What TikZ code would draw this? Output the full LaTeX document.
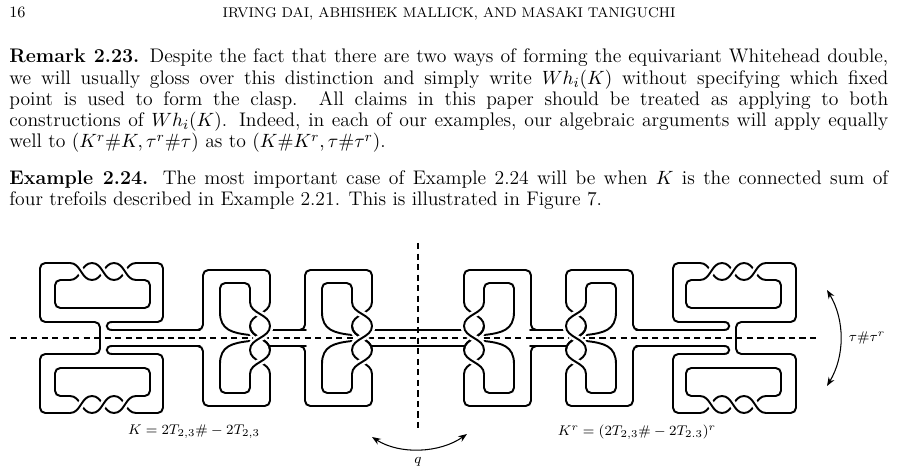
\documentclass[tikz,border=0pt]{standalone}
\usetikzlibrary{arrows.meta}
\newcommand\myhx[4]{%
 \pgfmathsetmacro\xm{(#1+#2)/2}%
 \draw[knot] (#1,#4) .. controls (\xm,#4) and (\xm,#3) .. (#2,#3);
 \draw[knot,over] (#1,#3) .. controls (\xm,#3) and (\xm,#4) .. (#2,#4);}
\newcommand\myvx[4]{%
 \pgfmathsetmacro\ym{(#1+#2)/2}%
 \draw[knot] (#4,#1) .. controls (#4,\ym) and (#3,\ym) .. (#3,#2);
 \draw[knot,over] (#3,#1) .. controls (#3,\ym) and (#4,\ym) .. (#4,#2);}
\newcommand\myunit[1]{%
 \begin{scope}[xshift=#1*0.57pt]
 \draw[knot,rounded corners=3pt] (198,330) -- (203,330) -- (203,270) -- (270,270) -- (270,302);
 \draw[knot,rounded corners=3pt] (250,302) -- (250,283) -- (220,283) -- (220,312);
 \draw[knot] (220,312) .. controls (220,330) and (232,333) .. (250,335);
 \myvx{302}{326}{250}{270}
 \myvx{326}{350}{250}{270}
 \draw[knot] (270,330) -- (306,330);
 \end{scope}}
\newcommand\mytop{%
 \draw[knot,rounded corners=3pt] (100,340) -- (100,322) -- (40,322) -- (40,263) -- (70,263);
 \myhx{70}{92}{263}{280}
 \myhx{92}{114}{263}{280}
 \myhx{114}{136}{263}{280}
 \draw[knot,rounded corners=3pt] (70,280) -- (55,280) -- (55,308) -- (150,308) -- (150,280) -- (136,280);
 \draw[knot,rounded corners=3pt] (136,263) -- (163,263) -- (163,322) -- (112,322);
 \draw[knot] (112,322) .. controls (105,322) and (105,330) .. (112,330) -- (200,330);
 \myunit{0}
 \myunit{102}
 \draw[knot] (372,330) -- (419,330);}
\begin{document}
\begin{tikzpicture}[x=0.57pt,y=-0.57pt,
 knot/.style={line width=1.1pt,line cap=round},
 over/.style={preaction={draw,white,line width=4pt,line cap=butt}},
 dashln/.style={line width=0.6pt,dash pattern=on 3.5pt off 2.5pt},
 txt/.style={anchor=base west,inner sep=0pt,font=\fontsize{11.2}{13}\selectfont}]
\useasboundingbox (0,0) rectangle (897,470);
\node[anchor=base west,inner sep=0pt,font=\fontsize{9}{11}\selectfont] (pg) at (9,18) {16};
\node[anchor=base,inner sep=0pt,font=\fontsize{8}{9}\selectfont] (hd) at (449,18) {IRVING DAI, ABHISHEK MALLICK, AND MASAKI TANIGUCHI};
\node[txt] (l1) at (9,63) {\makebox[501pt][s]{\textbf{Remark 2.23.} Despite the fact that there are two ways of forming the equivariant Whitehead double,}};
\node[txt] (l2) at (9,85) {\makebox[501pt][s]{we will usually gloss over this distinction and simply write $Wh_i(K)$ without specifying which fixed}};
\node[txt] (l3) at (9,106) {\makebox[501pt][s]{point is used to form the clasp.\ \ All claims in this paper should be treated as applying to both}};
\node[txt] (l4) at (9,127) {\makebox[501pt][s]{constructions of $Wh_i(K)$. Indeed, in each of our examples, our algebraic arguments will apply equally}};
\node[txt] (l5) at (9,148) {well to $(K^r\#K,\tau^r\#\tau)$ as to $(K\#K^r,\tau\#\tau^r)$.};
\node[txt] (l6) at (9,185) {\makebox[501pt][s]{\textbf{Example 2.24.} The most important case of Example 2.24 will be when $K$ is the connected sum of}};
\node[txt] (l7) at (9,206) {four trefoils described in Example 2.21. This is illustrated in Figure 7.};
% axes
\coordinate (h1) at (10,338); \coordinate (h2) at (820,338);
\coordinate (v1) at (418,243); \coordinate (v2) at (418,428);
\draw[dashln] (h1) -- (h2);
\draw[dashln] (v1) -- (v2);
% knot
\mytop
\begin{scope}[shift={(0,676)},yscale=-1]\mytop\end{scope}
\begin{scope}[shift={(836,0)},xscale=-1]\mytop\end{scope}
\begin{scope}[shift={(836,676)},xscale=-1,yscale=-1]\mytop\end{scope}
% labels
\node[font=\fontsize{8}{9}\selectfont] (kl) at (194,432) {$K=2T_{2,3}\#-2T_{2,3}$};
\node[font=\fontsize{8}{9}\selectfont] (kr) at (637,432) {$K^r=(2T_{2,3}\#-2T_{2.3})^r$};
\node[font=\fontsize{8}{9}\selectfont] (tl) at (867,338) {$\tau\#\tau^r$};
\node[font=\fontsize{8}{9}\selectfont] (ql) at (418,462) {$q$};
\coordinate (a1) at (827,290); \coordinate (a2) at (827,386);
\draw[line width=0.6pt,{Stealth[length=5pt]}-{Stealth[length=5pt]}] (a1) .. controls (845,320) and (845,356) .. (a2);
\coordinate (b1) at (372,437); \coordinate (b2) at (467,434);
\draw[line width=0.6pt,{Stealth[length=5pt]}-{Stealth[length=5pt]}] (b1) .. controls (400,455) and (440,453) .. (b2);
\end{tikzpicture}
\end{document}
